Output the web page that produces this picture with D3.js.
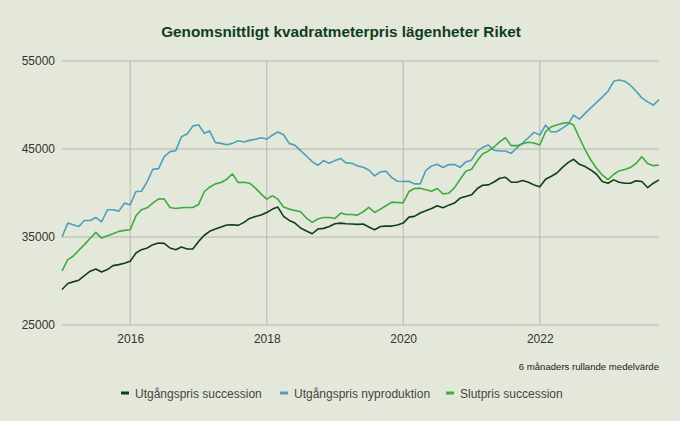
<!DOCTYPE html>
<html>
<head>
<meta charset="utf-8">
<script src="https://cdn.jsdelivr.net/npm/d3@7"></script>
<style>
  body { margin: 0; background: #e4e8da; }
  text { font-family: "Liberation Sans", Arial, sans-serif; }
</style>
</head>
<body>
<script>

// monthly, Jan 2015 .. Oct 2023
const startMonth = new Date(2015, 0, 1);

const utgSuccession = [
  29030, 29710, 29900, 30090, 30620, 31110, 31370, 31030, 31300, 31750, 31860, 32010,
  32240, 33180, 33560, 33750, 34130, 34320, 34280, 33750, 33560, 33860, 33640, 33640,
  34500, 35200, 35640, 35900, 36130, 36360, 36390, 36320, 36660, 37110, 37340, 37490,
  37790, 38170, 38400, 37340, 36880, 36580, 36020, 35680, 35370, 35900, 35980, 36200,
  36510, 36580, 36510, 36470, 36430, 36470, 36130, 35830, 36200, 36240, 36240, 36360,
  36580, 37260, 37340, 37720, 37980, 38240, 38550, 38320, 38620, 38850, 39420, 39600,
  39790, 40510, 40880, 40920, 41250, 41680, 41790, 41230, 41230, 41410, 41230, 40920,
  40700, 41560, 41870, 42240, 42890, 43450, 43830, 43260, 43000, 42620, 42130, 41300,
  41110, 41490, 41230, 41110, 41110, 41380, 41300, 40620, 41110, 41490
];

const utgNyproduktion = [
  35000, 36580, 36390, 36200, 36880, 36880, 37220, 36730, 38090, 38090, 37940, 38850,
  38660, 40170, 40200, 41300, 42700, 42770, 44130, 44700, 44810, 46400, 46700, 47600,
  47760, 46780, 47040, 45720, 45640, 45490, 45640, 45940, 45790, 45980, 46100, 46280,
  46130, 46590, 46930, 46620, 45640, 45420, 44810, 44210, 43570, 43150, 43680, 43380,
  43680, 43910, 43420, 43380, 43080, 42920, 42620, 41940, 42400, 42470, 41750, 41340,
  41300, 41340, 41040, 41040, 42550, 43080, 43260, 42890, 43230, 43230, 42920, 43530,
  43760, 44740, 45190, 45450, 44850, 44770, 44770, 44510, 45150, 45680, 46280, 46890,
  46590, 47720, 46960, 46960, 47340, 47790, 48850, 48400, 49040, 49680, 50290, 50890,
  51570, 52700, 52850, 52700, 52250, 51570, 50810, 50360, 49980, 50620
];

const slutSuccession = [
  31150, 32430, 32810, 33490, 34130, 34850, 35530, 34880, 35150, 35370, 35640, 35750,
  35830, 37410, 38090, 38320, 38850, 39340, 39300, 38360, 38240, 38320, 38360, 38360,
  38700, 40170, 40660, 41040, 41190, 41570, 42170, 41190, 41230, 41110, 40550, 39900,
  39300, 39680, 39300, 38400, 38170, 38020, 37870, 37150, 36660, 37040, 37220, 37220,
  37110, 37720, 37560, 37560, 37490, 37870, 38360, 37790, 38170, 38550, 38960, 38920,
  38880, 40170, 40510, 40550, 40360, 40200, 40510, 39900, 39980, 40580, 41570, 42470,
  42700, 43680, 44430, 44780, 45230, 45830, 46280, 45380, 45380, 45600, 45760, 45680,
  45450, 46960, 47490, 47720, 47910, 48020, 47720, 46280, 44890, 43750, 42810, 42060,
  41530, 42130, 42510, 42660, 42890, 43380, 44130, 43340, 43110, 43190
];

const seriesNames = ["Utgångspris succession", "Utgångspris nyproduktion", "Slutpris succession"];
const seriesColors = ["#0f3d1f", "#4e9fb8", "#3dab3d"];
const yTicks = [25000, 35000, 45000, 55000];
const xTickYears = [2016, 2018, 2020, 2022];

const width = 680;
const height = 421;
const margin = {left: 62, top: 61, right: 21, bottom: 96};

const svg = d3.select("body").append("svg")
    .attr("width", width)
    .attr("height", height);

svg.append("rect")
    .attr("width", width)
    .attr("height", height)
    .attr("fill", "#e4e8da");

const months = utgSuccession.map(function(d, i) {
  return new Date(startMonth.getFullYear(), startMonth.getMonth() + i, 1);
});

const x = d3.scaleTime()
    .domain([months[0], months[months.length - 1]])
    .range([margin.left, width - margin.right]);

const y = d3.scaleLinear()
    .domain([25000, 55000])
    .range([height - margin.bottom, margin.top]);

// title
svg.append("text")
    .attr("x", 341)
    .attr("y", 37)
    .attr("text-anchor", "middle")
    .attr("fill", "#0f3d1f")
    .attr("font-size", 15.3)
    .attr("font-weight", "bold")
    .text("Genomsnittligt kvadratmeterpris lägenheter Riket");

// **** grid *****************
const g = svg.append("g");

g.selectAll(".hgrid")
  .data(yTicks)
  .join("line")
    .attr("class", "hgrid")
    .attr("x1", margin.left)
    .attr("x2", width - margin.right)
    .attr("y1", d => y(d))
    .attr("y2", d => y(d))
    .attr("stroke", "#b4b8ae")
    .attr("stroke-width", 1);

g.selectAll(".vgrid")
  .data(xTickYears)
  .join("line")
    .attr("class", "vgrid")
    .attr("x1", d => x(new Date(d, 0, 1)))
    .attr("x2", d => x(new Date(d, 0, 1)))
    .attr("y1", y(55000))
    .attr("y2", y(25000))
    .attr("stroke", "#b4b8ae")
    .attr("stroke-width", 1);

// **** axes *****************
const yAxis = svg.append("g")
    .attr("transform", "translate(" + margin.left + ",0)")
    .call(d3.axisLeft(y).tickValues(yTicks).tickSize(0).tickPadding(7).tickFormat(d3.format("d")));
yAxis.select(".domain").remove();
yAxis.selectAll("text")
    .attr("fill", "#333")
    .attr("font-size", 12)
    .attr("font-family", "Liberation Sans, Arial, sans-serif");

const xAxis = svg.append("g")
    .attr("transform", "translate(0," + y(25000) + ")")
    .call(d3.axisBottom(x).tickValues(xTickYears.map(d => new Date(d, 0, 1))).tickSize(0).tickPadding(9).tickFormat(d3.timeFormat("%Y")));
xAxis.select(".domain").remove();
xAxis.selectAll("text")
    .attr("fill", "#333")
    .attr("font-size", 12)
    .attr("font-family", "Liberation Sans, Arial, sans-serif");

// **** lines *****************
const line = d3.line()
    .x((d, i) => x(months[i]))
    .y(d => y(d));

const allSeries = [utgSuccession, utgNyproduktion, slutSuccession];
const drawOrder = [1, 2, 0];

svg.selectAll(".series")
  .data(drawOrder)
  .join("path")
    .attr("class", "series")
    .attr("d", k => line(allSeries[k]))
    .attr("fill", "none")
    .attr("stroke", k => seriesColors[k])
    .attr("stroke-width", 1.6)
    .attr("stroke-linejoin", "round");

// note
svg.append("text")
    .attr("x", width - margin.right)
    .attr("y", 370)
    .attr("text-anchor", "end")
    .attr("fill", "#222")
    .attr("font-size", 9.6)
    .text("6 månaders rullande medelvärde");

// **** legend *****************
const legendX = [121, 280, 446];
const legend = svg.selectAll(".legend")
  .data(seriesNames)
  .join("g")
    .attr("class", "legend")
    .attr("transform", (d, i) => "translate(" + legendX[i] + ",393)");

legend.append("rect")
    .attr("x", 0)
    .attr("y", -1.5)
    .attr("width", 8)
    .attr("height", 3)
    .attr("fill", (d, i) => seriesColors[i]);

legend.append("text")
    .attr("x", 14)
    .attr("y", 4.5)
    .attr("fill", "#444")
    .attr("font-size", 12)
    .text(d => d);

</script>
</body>
</html>
